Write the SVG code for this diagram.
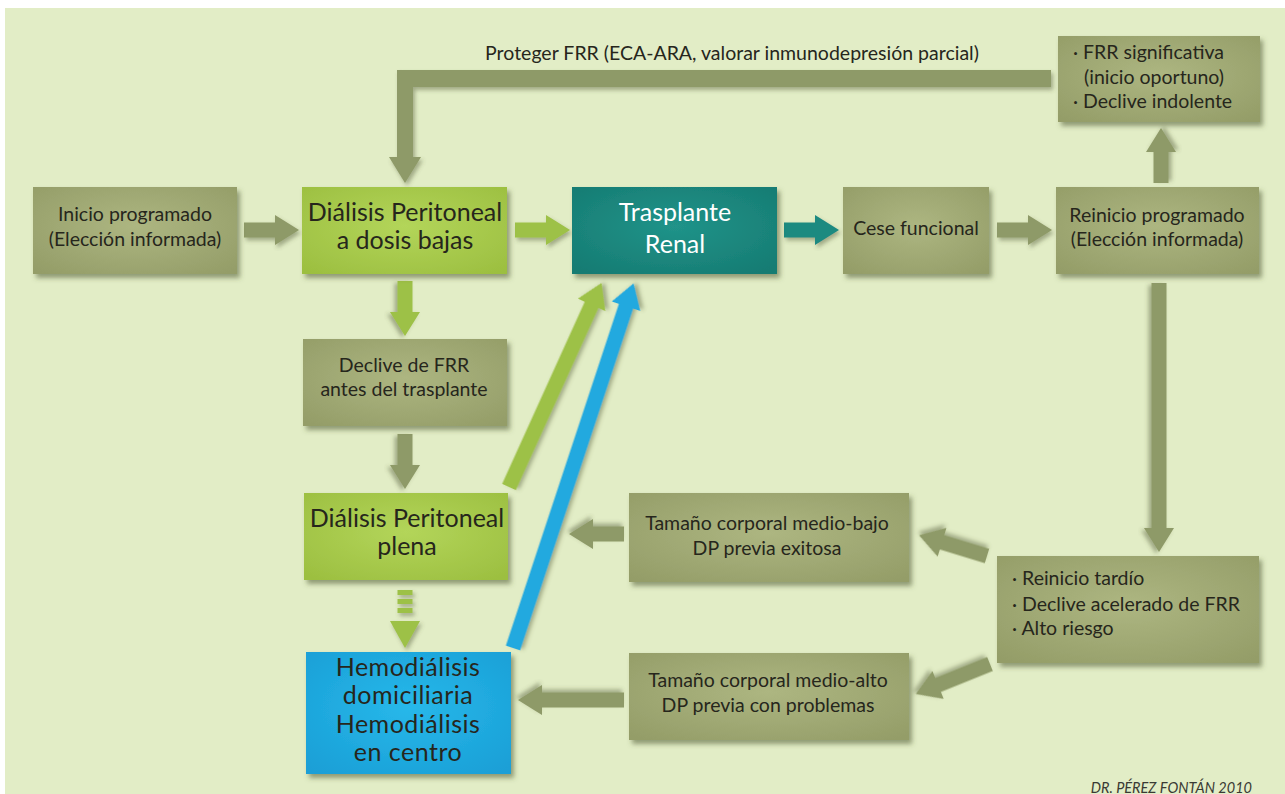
<svg xmlns="http://www.w3.org/2000/svg" xmlns:xlink="http://www.w3.org/1999/xlink" width="1285" height="794" viewBox="0 0 1285 794">
<defs>
<style>
.t{font-family:Lato,"Open Sans","Liberation Sans",sans-serif;fill:#26261c;text-anchor:middle}
.s{font-size:19.5px}
.b{font-size:25px}
.l{text-anchor:start}
.w{fill:#ffffff}
.olv{fill:#8e9a67}
.grn{fill:#9dc146}
.tea{fill:#1b8a80}
.blu{fill:#23a9df}
.box{filter:url(#sh)}
.ar{filter:url(#sh2)}
</style>
<filter id="sh" x="-10%" y="-10%" width="125%" height="130%">
<feDropShadow dx="3" dy="4" stdDeviation="2.5" flood-color="#4d5730" flood-opacity="0.55"/>
</filter>
<filter id="sh2" x="-20%" y="-20%" width="140%" height="140%">
<feDropShadow dx="2" dy="3" stdDeviation="2" flood-color="#4d5730" flood-opacity="0.45"/>
</filter>
<radialGradient id="gO" cx="50%" cy="45%" r="70%">
<stop offset="0" stop-color="#adb681"/>
<stop offset="1" stop-color="#949d68"/>
</radialGradient>
<radialGradient id="gG" cx="50%" cy="45%" r="70%">
<stop offset="0" stop-color="#b3d55a"/>
<stop offset="1" stop-color="#9cbf40"/>
</radialGradient>
<radialGradient id="gT" cx="50%" cy="45%" r="70%">
<stop offset="0" stop-color="#209389"/>
<stop offset="1" stop-color="#167b72"/>
</radialGradient>
<radialGradient id="gB" cx="50%" cy="45%" r="70%">
<stop offset="0" stop-color="#27b8ea"/>
<stop offset="1" stop-color="#1a9fd6"/>
</radialGradient>
<polygon id="ah" points="0,-7.5 31,-7.5 31,-15 55,0 31,15 31,7.5 0,7.5"/>
</defs>

<rect x="0" y="0" width="1285" height="794" fill="#ffffff"/>
<rect x="5" y="8" width="1280" height="786" fill="#e2edc6"/>

<g id="connectors">
<polygon class="olv ar" points="1051,70 397,70 397,157 389,157 405,183 421,157 413,157 413,87 1051,87"/>
<use xlink:href="#ah" href="#ah" class="olv ar" transform="translate(244,230)"/>
<use xlink:href="#ah" href="#ah" class="grn ar" transform="translate(515,230)"/>
<use xlink:href="#ah" href="#ah" class="tea ar" transform="translate(784,230)"/>
<use xlink:href="#ah" href="#ah" class="olv ar" transform="translate(997,230)"/>
<use xlink:href="#ah" href="#ah" class="olv ar" transform="translate(1161,183) rotate(-90)"/>
<use xlink:href="#ah" href="#ah" class="grn ar" transform="translate(405,281) rotate(90)"/>
<use xlink:href="#ah" href="#ah" class="olv ar" transform="translate(405,434) rotate(90)"/>
<g class="grn ar">
<rect x="397.5" y="590" width="15" height="5"/>
<rect x="397.5" y="599" width="15" height="5"/>
<rect x="397.5" y="608" width="15" height="5"/>
<polygon points="390,621 420,621 405,648"/>
</g>
<polygon class="olv ar" transform="translate(1159,283) rotate(90)" points="0,-7.5 245,-7.5 245,-15 269,0 245,15 245,7.5 0,7.5"/>
<polygon class="grn ar" transform="translate(509,487) rotate(-65.6)" points="0,-7.5 200,-7.5 200,-15 224,0 200,15 200,7.5 0,7.5"/>
<polygon class="blu ar" transform="translate(513,648) rotate(-71.7)" points="0,-7.5 360,-7.5 360,-15 384,0 360,15 360,7.5 0,7.5"/>
<polygon class="olv ar" transform="translate(987,556) rotate(-163)" points="0,-7.5 47,-7.5 47,-15 71,0 47,15 47,7.5 0,7.5"/>
<polygon class="olv ar" transform="translate(990,664) rotate(158)" points="0,-7.5 56,-7.5 56,-15 80,0 56,15 56,7.5 0,7.5"/>
<use xlink:href="#ah" href="#ah" class="olv ar" transform="translate(624,534) rotate(180)"/>
<polygon class="olv ar" transform="translate(624,700) rotate(180)" points="0,-7.5 82,-7.5 82,-15 106,0 82,15 82,7.5 0,7.5"/>
<text class="t s" x="732" y="60" font-size="18.5px">Proteger FRR (ECA-ARA, valorar inmunodepresión parcial)</text>
</g>

<g id="inicio">
<rect class="box" x="33" y="187" width="204" height="87" fill="url(#gO)"/>
<text class="t s"><tspan x="135" y="221">Inicio programado</tspan><tspan x="135" y="246">(Elección informada)</tspan></text>
</g>

<g id="dp-bajas">
<rect class="box" x="302" y="187" width="205" height="87" fill="url(#gG)"/>
<text class="t b"><tspan x="405" y="221">Diálisis Peritoneal</tspan><tspan x="405" y="249">a dosis bajas</tspan></text>
</g>

<g id="trasplante">
<rect class="box" x="572" y="187" width="205" height="87" fill="url(#gT)"/>
<text class="t b w" font-size="26px"><tspan x="675" y="221">Trasplante</tspan><tspan x="675" y="253">Renal</tspan></text>
</g>

<g id="cese">
<rect class="box" x="843" y="187" width="146" height="87" fill="url(#gO)"/>
<text class="t s" x="916" y="235">Cese funcional</text>
</g>

<g id="reinicio-prog">
<rect class="box" x="1056" y="187" width="203" height="87" fill="url(#gO)"/>
<text class="t s"><tspan x="1157" y="222">Reinicio programado</tspan><tspan x="1157" y="246">(Elección informada)</tspan></text>
</g>

<g id="frr-sig">
<rect class="box" x="1058" y="36" width="202" height="86" fill="url(#gO)"/>
<text class="t s l"><tspan x="1073" y="59">· FRR significativa</tspan><tspan x="1084" y="84">(inicio oportuno)</tspan><tspan x="1073" y="108">· Declive indolente</tspan></text>
</g>

<g id="declive">
<rect class="box" x="303" y="339" width="204" height="87" fill="url(#gO)"/>
<text class="t s"><tspan x="404" y="372">Declive de FRR</tspan><tspan x="404" y="396">antes del trasplante</tspan></text>
</g>

<g id="dp-plena">
<rect class="box" x="304" y="493" width="204" height="87" fill="url(#gG)"/>
<text class="t b"><tspan x="407" y="527">Diálisis Peritoneal</tspan><tspan x="407" y="555">plena</tspan></text>
</g>

<g id="hemodialisis">
<rect class="box" x="306" y="652" width="205" height="122" fill="url(#gB)"/>
<text class="t b" font-size="24px" letter-spacing="0.5"><tspan x="408" y="676">Hemodiálisis</tspan><tspan x="408" y="704">domiciliaria</tspan><tspan x="408" y="733">Hemodiálisis</tspan><tspan x="408" y="761">en centro</tspan></text>
</g>

<g id="medio-bajo">
<rect class="box" x="629" y="493" width="280" height="89" fill="url(#gO)"/>
<text class="t s"><tspan x="767" y="530">Tamaño corporal medio-bajo</tspan><tspan x="767" y="555">DP previa exitosa</tspan></text>
</g>

<g id="reinicio-tardio">
<rect class="box" x="997" y="556" width="262" height="107" fill="url(#gO)"/>
<text class="t s l"><tspan x="1012" y="585">· Reinicio tardío</tspan><tspan x="1012" y="611">· Declive acelerado de FRR</tspan><tspan x="1012" y="635">· Alto riesgo</tspan></text>
</g>

<g id="medio-alto">
<rect class="box" x="629" y="653" width="280" height="87" fill="url(#gO)"/>
<text class="t s"><tspan x="768" y="687">Tamaño corporal medio-alto</tspan><tspan x="768" y="712">DP previa con problemas</tspan></text>
</g>

<text class="t" x="1252" y="793" font-size="14.5px" font-style="italic" style="text-anchor:end;fill:#3a3a34">DR. PÉREZ FONTÁN 2010</text>
</svg>
